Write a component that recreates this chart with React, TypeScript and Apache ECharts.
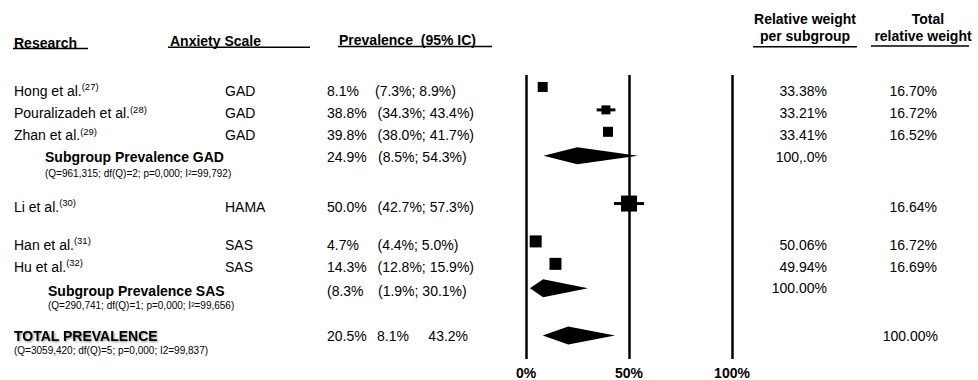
import React, { useEffect, useRef } from "react";
import * as echarts from "echarts";

// ---------- data ----------
const studyNames = ["Hong et al.", "Pouralizadeh et al.", "Zhan et al.", "Li et al.", "Han et al.", "Hu et al."];
const studyRefs = ["(27)", "(28)", "(29)", "(30)", "(31)", "(32)"];
const studyScales = ["GAD", "GAD", "GAD", "HAMA", "SAS", "SAS"];
const studyEst = [8.1, 38.8, 39.8, 50.0, 4.7, 14.3];
const studyLow = [7.3, 34.3, 38.0, 42.7, 4.4, 12.8];
const studyHigh = [8.9, 43.4, 41.7, 57.3, 5.0, 15.9];
const studyWeightSub = ["33.38%", "33.21%", "33.41%", "", "50.06%", "49.94%"];
const studyWeightTotal = ["16.70%", "16.72%", "16.52%", "16.64%", "16.72%", "16.69%"];

const pooledLabels = ["Subgroup Prevalence GAD", "Subgroup Prevalence SAS", "TOTAL PREVALENCE"];
const pooledStats = [
  "(Q=961,315; df(Q)=2; p=0,000; I²=99,792)",
  "(Q=290,741; df(Q)=1; p=0,000; I²=99,656)",
  "(Q=3059,420; df(Q)=5; p=0,000; I2=99,837)",
];
const pooledEst = [24.9, 8.3, 20.5];
const pooledLow = [8.5, 1.9, 8.1];
const pooledHigh = [54.3, 30.1, 43.2];
const pooledEstText = ["24.9%", "(8.3%", "20.5%"];
const pooledCiText = ["(8.5%; 54.3%)", "(1.9%; 30.1%)", "8.1%     43.2%"];
const pooledWeightSub = ["100,.0%", "100.00%", ""];
const pooledWeightTotal = ["", "", "100.00%"];

const headers = ["Research", "Anxiety Scale", "Prevalence  (95% IC)"];
const axisTicks = [0, 50, 100];

// ---------- layout ----------
const studyMarkY = [87, 110, 132, 204, 242, 264.5];
const studyTextY = [90.5, 113, 135, 206.5, 244.5, 266.5];
const studyMarkSize = [10, 9, 10, 16, 12, 12];
const pooledMarkY = [156, 289, 336.5];
const pooledMarkH = [17, 18, 18];
const pooledTextY = [157.3, 290.5, 336];
const pooledStatsY = [173, 305, 350.5];
const pooledLabelX = [45, 48, 14];

const FONT = "'Liberation Sans', Arial, Helvetica, sans-serif";

function txt(x: number, y: number, text: string, extra: any = {}) {
  return {
    type: "text",
    x,
    y,
    silent: true,
    style: {
      text,
      fill: "#000",
      fontFamily: FONT,
      fontSize: 14,
      align: "left",
      verticalAlign: "middle",
      ...extra,
    },
  };
}

function uline(x1: number, x2: number, y: number) {
  return {
    type: "line",
    silent: true,
    shape: { x1, y1: y, x2, y2: y },
    style: { stroke: "#000", lineWidth: 1.5 },
  };
}

const pct = (v: number) => v.toFixed(1) + "%";

export default function App() {
  const ref = useRef<HTMLDivElement>(null);

  useEffect(() => {
    if (!ref.current) return;
    const chart = echarts.init(ref.current, null, { renderer: "svg" });

    const graphics: any[] = [];
    // headers
    graphics.push(txt(14, 43, headers[0], { fontWeight: "bold" }));
    graphics.push(uline(13, 88, 48.5));
    graphics.push(txt(170, 40.7, headers[1], { fontWeight: "bold" }));
    graphics.push(uline(168, 310, 47.3));
    graphics.push(txt(339, 40, headers[2], { fontWeight: "bold" }));
    graphics.push(uline(338, 492, 46.5));
    graphics.push(txt(805, 18.5, "Relative weight", { fontWeight: "bold", align: "center" }));
    graphics.push(txt(805, 35.7, "per subgroup", { fontWeight: "bold", align: "center" }));
    graphics.push(uline(753, 857, 46.7));
    graphics.push(txt(928, 18.5, "Total", { fontWeight: "bold", align: "center" }));
    graphics.push(txt(923, 36, "relative weight", { fontWeight: "bold", align: "center" }));
    graphics.push(uline(871, 969, 46));

    // study rows
    studyNames.forEach((name, i) => {
      const y = studyTextY[i];
      graphics.push(
        txt(14, y, `{n|${name}}{s|${studyRefs[i]}}`, {
          rich: {
            n: { fontSize: 14, fontFamily: FONT, lineHeight: 18, fill: "#000" },
            s: { fontSize: 9.5, fontFamily: FONT, lineHeight: 11, verticalAlign: "top", fill: "#000" },
          },
        })
      );
      graphics.push(txt(225, y, studyScales[i]));
      graphics.push(txt(327, y, pct(studyEst[i])));
      graphics.push(txt(i === 0 ? 375 : 377.5, y, `(${pct(studyLow[i])}; ${pct(studyHigh[i])})`));
      if (studyWeightSub[i]) graphics.push(txt(827, y, studyWeightSub[i], { align: "right" }));
      if (studyWeightTotal[i]) graphics.push(txt(937, y, studyWeightTotal[i], { align: "right" }));
    });

    // pooled rows
    pooledLabels.forEach((label, i) => {
      const y = pooledTextY[i];
      const isTotal = i === 2;
      graphics.push(
        txt(pooledLabelX[i], y, label, {
          fontWeight: "bold",
          ...(isTotal
            ? { textShadowColor: "rgba(0,0,0,0.45)", textShadowBlur: 2, textShadowOffsetX: 1, textShadowOffsetY: 1 }
            : {}),
        })
      );
      graphics.push(txt(pooledLabelX[i], pooledStatsY[i], pooledStats[i], { fontSize: 10 }));
      graphics.push(txt(327, y, pooledEstText[i]));
      graphics.push(txt(isTotal ? 377 : 378, y, pooledCiText[i]));
      if (pooledWeightSub[i]) graphics.push(txt(827, y - (i === 1 ? 3 : 0), pooledWeightSub[i], { align: "right" }));
      if (pooledWeightTotal[i]) graphics.push(txt(938, y, pooledWeightTotal[i], { align: "right" }));
    });

    const studyData = studyNames.map((_, i) => [
      studyEst[i],
      studyLow[i],
      studyHigh[i],
      studyMarkY[i],
      studyMarkSize[i],
    ]);
    const pooledData = pooledLabels.map((_, i) => [
      pooledEst[i],
      pooledLow[i],
      pooledHigh[i],
      pooledMarkY[i],
      pooledMarkH[i],
    ]);

    const option: any = {
      animation: false,
      backgroundColor: "#fff",
      grid: { left: 526, right: 246, top: 75, bottom: 20, containLabel: false },
      xAxis: {
        type: "value",
        min: 0,
        max: 100,
        interval: 50,
        axisLine: { show: false },
        axisTick: { show: false },
        splitLine: { show: true, lineStyle: { color: "#000", width: 2.5 } },
        axisLabel: {
          show: true,
          margin: 7,
          color: "#000",
          fontWeight: "bold",
          fontSize: 14,
          fontFamily: FONT,
          formatter: (v: number) => (axisTicks.includes(v) ? `${v}%` : ""),
        },
      },
      yAxis: {
        type: "value",
        inverse: true,
        min: 75,
        max: 360,
        show: false,
        splitLine: { show: false },
      },
      series: [
        {
          type: "custom",
          data: studyData,
          clip: false,
          renderItem: (params: any, api: any) => {
            const y = api.value(3);
            const c = api.coord([api.value(0), y]);
            const lo = api.coord([api.value(1), y]);
            const hi = api.coord([api.value(2), y]);
            const s = api.value(4);
            return {
              type: "group",
              children: [
                {
                  type: "line",
                  shape: { x1: lo[0], y1: c[1], x2: hi[0], y2: c[1] },
                  style: { stroke: "#000", lineWidth: 3 },
                },
                {
                  type: "rect",
                  shape: { x: c[0] - s / 2, y: c[1] - s / 2, width: s, height: s },
                  style: { fill: "#000" },
                },
              ],
            };
          },
        },
        {
          type: "custom",
          data: pooledData,
          clip: false,
          renderItem: (params: any, api: any) => {
            const y = api.value(3);
            const c = api.coord([api.value(0), y]);
            const lo = api.coord([api.value(1), y]);
            const hi = api.coord([api.value(2), y]);
            const h = api.value(4);
            return {
              type: "polygon",
              shape: {
                points: [
                  [lo[0], c[1]],
                  [c[0], c[1] - h / 2],
                  [hi[0], c[1]],
                  [c[0], c[1] + h / 2],
                ],
              },
              style: { fill: "#000" },
            };
          },
        },
      ],
      graphic: graphics,
    };

    chart.setOption(option);
    return () => chart.dispose();
  }, []);

  return (
    <div
      ref={ref}
      style={{ position: "fixed", left: 0, top: 0, width: 978, height: 380, background: "#fff" }}
    />
  );
}
